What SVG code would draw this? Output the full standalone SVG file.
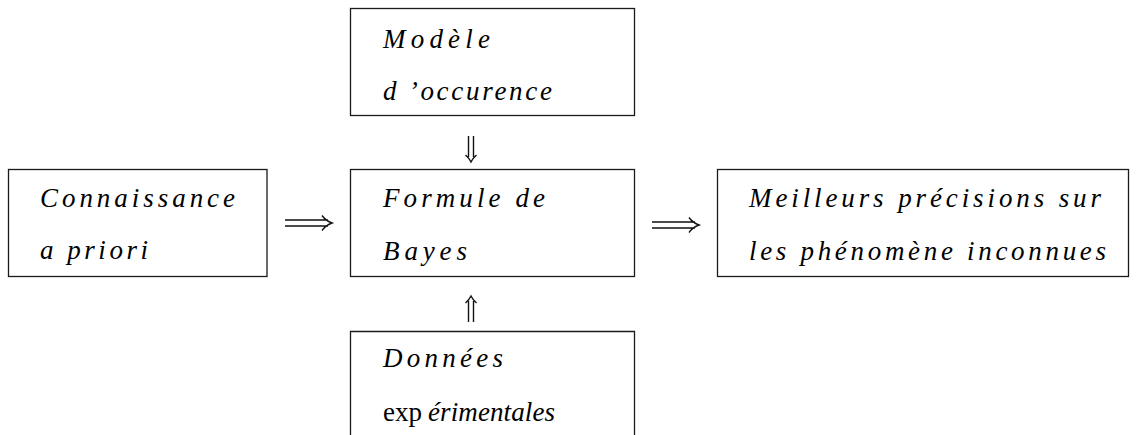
<svg xmlns="http://www.w3.org/2000/svg" width="1137" height="435" viewBox="0 0 1137 435">
<style>
.box{fill:none;stroke:#1a1a1a;stroke-width:1.3}
.t{font-family:"Liberation Serif","DejaVu Serif",serif;font-style:italic;font-size:27px;fill:#000}
.r{font-style:normal}
.arr{fill:none;stroke:#111;stroke-width:1.4}
</style>
<rect width="1137" height="435" fill="#fff"/>
<g id="node-modele">
<rect class="box" x="350.5" y="8.5" width="284" height="107"/>
<text class="t" x="383" y="48" textLength="107" lengthAdjust="spacing">Modèle</text>
<text class="t" x="383" y="100" textLength="169" lengthAdjust="spacing">d ’occurence</text>
</g>
<g id="node-connaissance">
<rect class="box" x="8.5" y="169.5" width="258.5" height="107"/>
<text class="t" x="40" y="207" textLength="195" lengthAdjust="spacing">Connaissance</text>
<text class="t" x="40" y="259" textLength="108" lengthAdjust="spacing">a priori</text>
</g>
<g id="node-bayes">
<rect class="box" x="350.5" y="169.5" width="284" height="107"/>
<text class="t" x="383" y="207" textLength="162" lengthAdjust="spacing">Formule de</text>
<text class="t" x="383" y="260" textLength="84" lengthAdjust="spacing">Bayes</text>
</g>
<g id="node-meilleurs">
<rect class="box" x="717.5" y="169.5" width="411" height="107"/>
<text class="t" x="749" y="207" textLength="352" lengthAdjust="spacing">Meilleurs précisions sur</text>
<text class="t" x="749" y="260" textLength="357" lengthAdjust="spacing">les phénomène inconnues</text>
</g>
<g id="node-donnees">
<path class="box" d="M350.5 436V331.5H634.5V436"/>
<text class="t" x="383" y="367" textLength="120" lengthAdjust="spacing">Données</text>
<text class="t" x="383" y="421"><tspan class="r">exp</tspan><tspan x="428" textLength="127" lengthAdjust="spacing">érimentales</tspan></text>
</g>
<g id="connectors">
<path class="arr" d="M285 220H328M285 226H328M322 215.5Q326 221 332 223Q326 225 322 230.5"/>
<path class="arr" d="M652 222H695M652 228H695M689 217.5Q693 223 699 225Q693 227 689 232.5"/>
<path class="arr" d="M468.5 136V157M473.5 136V157M465.5 155Q469 158 471 162Q473 158 476.5 155"/>
<path class="arr" d="M468.5 322V301M473.5 322V301M465.5 303Q469 300 471 296Q473 300 476.5 303"/>
</g>
</svg>
